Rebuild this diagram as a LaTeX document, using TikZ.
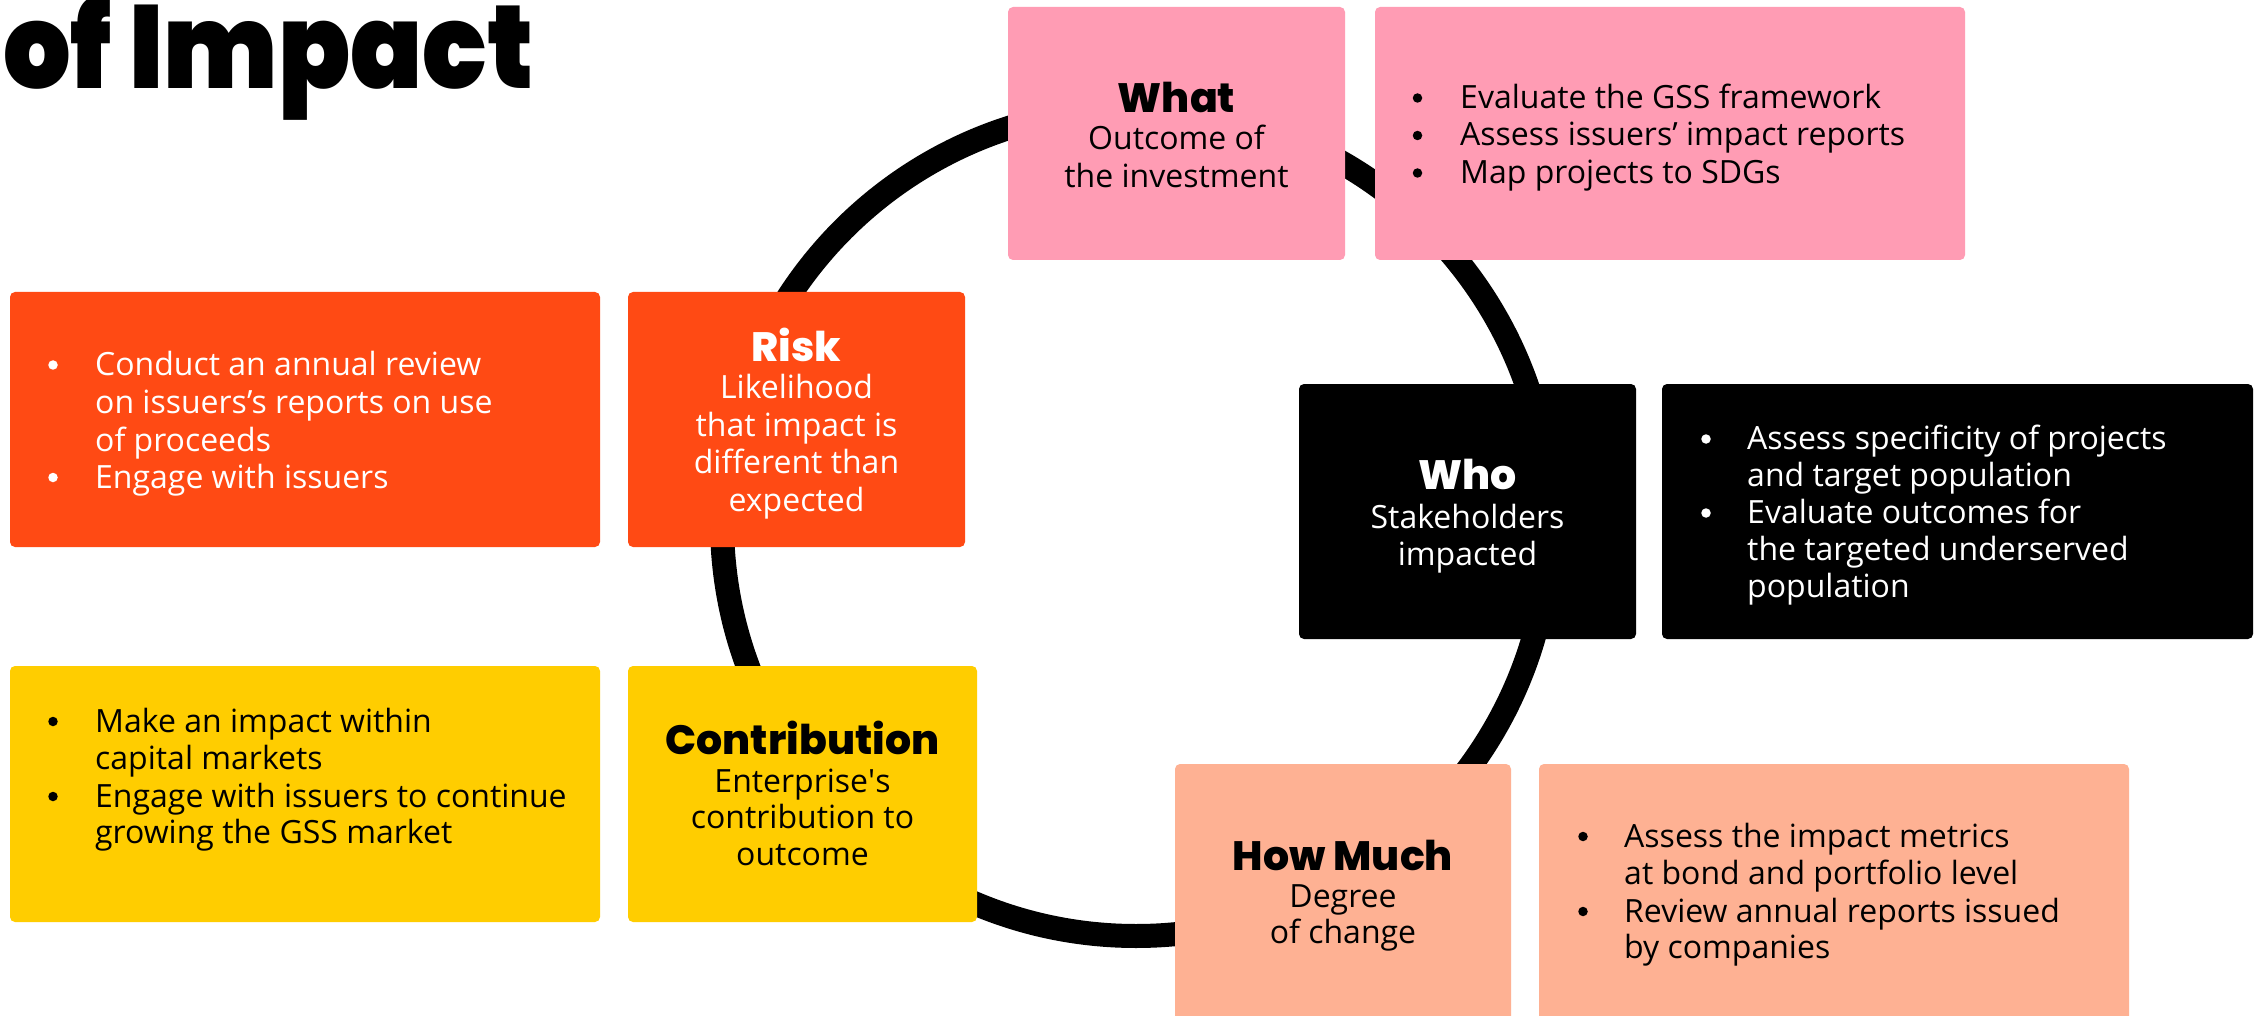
\documentclass[tikz,border=0pt]{standalone}
\usepackage{fontspec}
\setmainfont{Open Sans}
\setmonofont{Open Sans}
\IfFontExistsTF{Poppins ExtraBold}{\newfontfamily\boxhead{Poppins ExtraBold}}{\newfontfamily\boxheadx{Poppins}\newcommand\boxhead{\boxheadx\bfseries}}
\IfFontExistsTF{Poppins Black}{\newfontfamily\bighead{Poppins Black}}{\newfontfamily\bigheadx{Poppins}\newcommand\bighead{\bigheadx\bfseries}}
\newcommand\sq{{\ttfamily'}}
\definecolor{orangeC}{HTML}{FF4A14}
\definecolor{pinkC}{HTML}{FF9CB4}
\definecolor{yellowC}{HTML}{FFCD00}
\definecolor{peachC}{HTML}{FEB193}
\begin{document}
\begin{tikzpicture}[x=1pt,y=-1pt,
  panel/.style={rectangle, rounded corners=5pt, inner sep=0pt, outer sep=0pt, anchor=north west, draw=none},
  head/.style={inner sep=0pt, anchor=base, font=\boxhead\fontsize{41}{41}\selectfont},
  bodyc/.style={inner sep=0pt, anchor=base, font=\fontsize{32}{37}\selectfont},
  bodyl/.style={inner sep=0pt, anchor=base west, font=\fontsize{32}{37}\selectfont},
  bul/.style={circle, inner sep=0pt, minimum size=9.5pt, draw=none},
  ring/.style={line width=24pt, draw=black}
]
\useasboundingbox (0,0) rectangle (2255,1016);
\fill[white] (0,0) rectangle (2255,1016);

% ring behind the panels
\coordinate (ringc) at (1136,522);
\draw[ring] (ringc) circle[radius=414pt];

% big title (second line, first line cut off)
\node[inner sep=0pt, anchor=base west, xscale=0.9, font=\bighead\fontsize{118}{118}\selectfont] (title) at (3,88.6) {of Impact};

% panels
\node[panel, fill=orangeC, minimum width=590pt, minimum height=255pt] (rd) at (10,292) {};
\node[panel, fill=orangeC, minimum width=337pt, minimum height=255pt] (risk) at (628,292) {};
\node[panel, fill=yellowC, minimum width=590pt, minimum height=256pt] (cd) at (10,666) {};
\node[panel, fill=yellowC, minimum width=349pt, minimum height=256pt] (contrib) at (628,666) {};
\node[panel, fill=pinkC, minimum width=337pt, minimum height=253pt] (what) at (1008,7) {};
\node[panel, fill=pinkC, minimum width=590pt, minimum height=253pt] (wd) at (1375,7) {};
\node[panel, fill=black, minimum width=337pt, minimum height=255pt] (who) at (1299,384) {};
\node[panel, fill=black, minimum width=591pt, minimum height=255pt] (whod) at (1662,384) {};
\node[panel, fill=peachC, minimum width=336pt, minimum height=270pt] (how) at (1175,764) {};
\node[panel, fill=peachC, minimum width=590pt, minimum height=270pt] (howd) at (1539,764) {};

% Risk
\node[head, text=white] (risk-h) at (796.5,361.5) {Risk};
\foreach \t/\yy [count=\i] in {Likelihood/398.5, that impact is/436, different than/473.5, expected/511}
  \node[bodyc, text=white] (risk-\i) at (796.5,\yy) {\t};
\foreach \t/\yy [count=\i] in {Conduct an annual review/375.5, on issuers’s reports on use/413, of proceeds/451, Engage with issuers/488}
  \node[bodyl, text=white] (rd-\i) at (95,\yy) {\t};
\node[bul, fill=white] (rd-b1) at (53,365) {};
\node[bul, fill=white] (rd-b2) at (53,477.5) {};

% What
\node[head] (what-h) at (1176.5,113) {What};
\foreach \t/\yy [count=\i] in {Outcome of/150, the investment/188}
  \node[bodyc] (what-\i) at (1176.5,\yy) {\t};
\foreach \t/\yy [count=\i] in {Evaluate the GSS framework/108.5, Assess issuers’ impact reports/146, Map projects to SDGs/183.5}
  {\node[bodyl] (wd-\i) at (1460,\yy) {\t};
   \node[bul, fill=black] (wd-b\i) at (1417.5,{\yy-10.5}) {};}

% Who
\node[head, text=white] (who-h) at (1467.5,489.5) {Who};
\foreach \t/\yy [count=\i] in {Stakeholders/528, impacted/565}
  \node[bodyc, text=white] (who-\i) at (1467.5,\yy) {\t};
\foreach \t/\yy [count=\i] in {Assess specificity of projects/449.5, and target population/486.5, Evaluate outcomes for/523.5, the targeted underserved/560.5, population/597.5}
  \node[bodyl, text=white] (whod-\i) at (1747,\yy) {\t};
\node[bul, fill=white] (whod-b1) at (1706,439) {};
\node[bul, fill=white] (whod-b2) at (1706,513) {};

% Contribution
\node[head] (contrib-h) at (802.5,754) {Contribution};
\foreach \t/\yy [count=\i] in {Enterprise\sq s/792, contribution to/828.5, outcome/865}
  \node[bodyc] (contrib-\i) at (802.5,\yy) {\t};
\foreach \t/\yy [count=\i] in {Make an impact within/732, capital markets/769, Engage with issuers to continue/807, growing the GSS market/843}
  \node[bodyl] (cd-\i) at (95,\yy) {\t};
\node[bul, fill=black] (cd-b1) at (53,721.5) {};
\node[bul, fill=black] (cd-b2) at (53,796.5) {};

% How Much
\node[head] (how-h) at (1343,870) {How Much};
\foreach \t/\yy [count=\i] in {Degree/907, of change/943}
  \node[bodyc] (how-\i) at (1343,\yy) {\t};
\foreach \t/\yy [count=\i] in {Assess the impact metrics/847, at bond and portfolio level/884, Review annual reports issued/922, by companies/958}
  \node[bodyl] (howd-\i) at (1624,\yy) {\t};
\node[bul, fill=black] (howd-b1) at (1583,836.5) {};
\node[bul, fill=black] (howd-b2) at (1583,911.5) {};
\end{tikzpicture}
\end{document}
